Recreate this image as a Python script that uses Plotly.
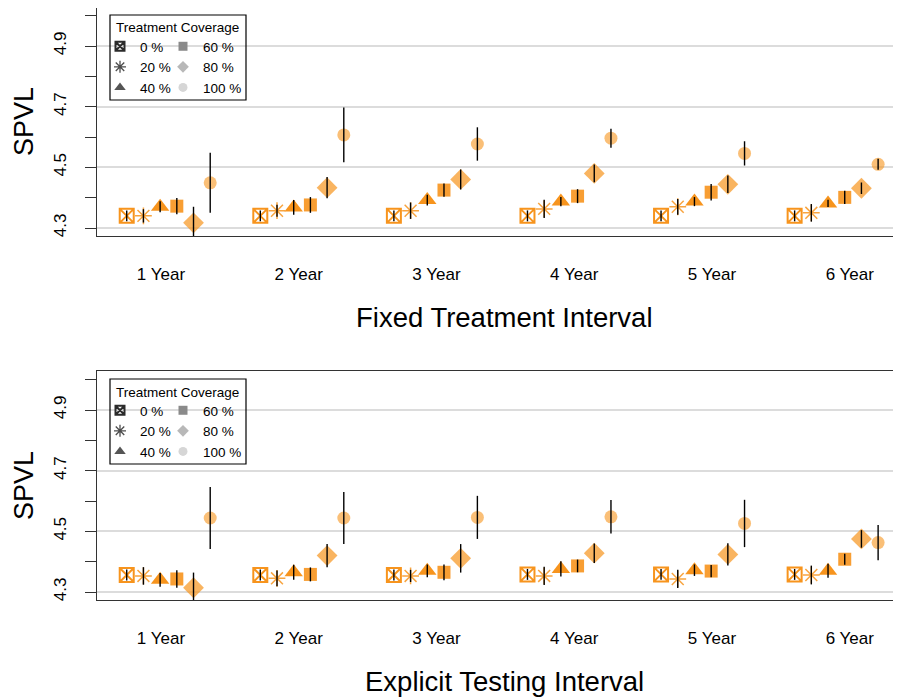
import plotly.graph_objects as go

# ---------------- data ----------------
coverage_labels = ["0 %", "20 %", "40 %", "60 %", "80 %", "100 %"]
interval_labels = ["1 Year", "2 Year", "3 Year", "4 Year", "5 Year", "6 Year"]

# Fixed treatment interval (top panel): mean SPVL and half-width of interval
fixed_0 = [4.340, 4.340, 4.340, 4.340, 4.340, 4.340]
fixed_20 = [4.340, 4.357, 4.357, 4.363, 4.370, 4.350]
fixed_40 = [4.370, 4.368, 4.392, 4.387, 4.387, 4.381]
fixed_60 = [4.372, 4.376, 4.425, 4.405, 4.418, 4.401]
fixed_80 = [4.317, 4.433, 4.460, 4.480, 4.444, 4.431]
fixed_100 = [4.449, 4.607, 4.577, 4.596, 4.546, 4.510]

fixed_err_0 = [0.018, 0.018, 0.018, 0.018, 0.018, 0.018]
fixed_err_20 = [0.022, 0.020, 0.027, 0.030, 0.026, 0.029]
fixed_err_40 = [0.018, 0.024, 0.018, 0.015, 0.015, 0.012]
fixed_err_60 = [0.027, 0.026, 0.022, 0.023, 0.027, 0.022]
fixed_err_80 = [0.053, 0.035, 0.033, 0.029, 0.029, 0.019]
fixed_err_100 = [0.099, 0.090, 0.055, 0.031, 0.040, 0.018]

# Explicit testing interval (bottom panel)
explicit_0 = [4.356, 4.356, 4.356, 4.358, 4.358, 4.358]
explicit_20 = [4.353, 4.345, 4.353, 4.353, 4.343, 4.356]
explicit_40 = [4.340, 4.365, 4.370, 4.376, 4.372, 4.370]
explicit_60 = [4.343, 4.358, 4.365, 4.386, 4.369, 4.408]
explicit_80 = [4.314, 4.420, 4.411, 4.428, 4.424, 4.475]
explicit_100 = [4.544, 4.544, 4.546, 4.548, 4.526, 4.463]

explicit_err_0 = [0.018, 0.018, 0.018, 0.018, 0.018, 0.018]
explicit_err_20 = [0.029, 0.026, 0.020, 0.030, 0.030, 0.031]
explicit_err_40 = [0.023, 0.025, 0.021, 0.025, 0.019, 0.023]
explicit_err_60 = [0.029, 0.023, 0.026, 0.021, 0.020, 0.018]
explicit_err_80 = [0.050, 0.038, 0.047, 0.032, 0.037, 0.029]
explicit_err_100 = [0.102, 0.086, 0.071, 0.055, 0.078, 0.058]

panel_titles = ["Fixed Treatment Interval", "Explicit Testing Interval"]
y_tick_values = [4.3, 4.5, 4.7, 4.9]

# ---------------- styles ----------------
symbols = ["square-x-open", "asterisk-open", "triangle-up", "square", "diamond", "circle"]
sizes = [14, 14, 16, 13, 16, 13]
plot_colors = [
    "rgba(247,148,29,1.0)",
    "rgba(247,148,29,0.85)",
    "rgba(247,148,29,1.0)",
    "rgba(247,148,29,0.9)",
    "rgba(247,148,29,0.7)",
    "rgba(247,148,29,0.6)",
]
legend_colors = ["#2b2b2b", "#4d4d4d", "#555555", "#8a8a8a", "#b8b8b8", "#d6d6d6"]
legend_sizes = [9, 10, 10, 9, 9, 9]
FONT = "Liberation Sans, Arial, Helvetica, sans-serif"

fixed_means = [fixed_0, fixed_20, fixed_40, fixed_60, fixed_80, fixed_100]
fixed_errs = [fixed_err_0, fixed_err_20, fixed_err_40, fixed_err_60, fixed_err_80, fixed_err_100]
explicit_means = [explicit_0, explicit_20, explicit_40, explicit_60, explicit_80, explicit_100]
explicit_errs = [explicit_err_0, explicit_err_20, explicit_err_40, explicit_err_60, explicit_err_80, explicit_err_100]

n_groups = len(interval_labels)
n_cov = len(coverage_labels)


def xpos(k):
    # index position: 6 points per group, gap of 2 between groups
    return [8 * g + k + 1 for g in range(n_groups)]


fig = go.Figure()

panels = [(fixed_means, fixed_errs, "x", "y"), (explicit_means, explicit_errs, "x2", "y2")]
for p, (means, errs, xa, ya) in enumerate(panels):
    # markers
    for k in range(n_cov):
        open_sym = symbols[k].endswith("open")
        fig.add_trace(go.Scatter(
            x=xpos(k), y=means[k], mode="markers", xaxis=xa, yaxis=ya,
            showlegend=False, hoverinfo="skip",
            marker=dict(
                symbol=symbols[k], size=sizes[k], color=plot_colors[k],
                line=dict(color=plot_colors[k], width=2 if k == 0 else (1.5 if open_sym else 0)),
            ),
        ))
    # error bars on top
    for k in range(n_cov):
        fig.add_trace(go.Scatter(
            x=xpos(k), y=means[k], mode="markers", xaxis=xa, yaxis=ya,
            showlegend=False, hoverinfo="skip",
            marker=dict(size=1, color="rgba(0,0,0,0)"),
            error_y=dict(type="data", array=errs[k], visible=True, color="#000000",
                         thickness=1.4, width=0),
        ))
    # legend keys (grey), two columns
    for k in range(n_cov):
        legend_name = "legend" if p == 0 else "legend3"
        if k >= 3:
            legend_name = "legend2" if p == 0 else "legend4"
        fig.add_trace(go.Scatter(
            x=[None], y=[None], mode="markers", xaxis=xa, yaxis=ya,
            name=coverage_labels[k], legend=legend_name, showlegend=True,
            marker=dict(symbol=symbols[k], size=legend_sizes[k], color=legend_colors[k],
                        line=dict(color=legend_colors[k],
                                  width=2 if k == 0 else (1.3 if k == 1 else 0))),
        ))

# ---------------- layout ----------------
# The page body adds an 8px offset; design in window pixels and compensate.
OFF = 8
WIN_W, WIN_H = 901, 697
W, H = WIN_W - OFF, WIN_H - OFF
PLOT_L = 97            # window x of plot-area left edge
ML = PLOT_L - OFF
PW = WIN_W - PLOT_L


def px_x(px):
    return (px - PLOT_L) / PW


def px_y(py):
    return (WIN_H - py) / H


PX_PER_UNIT = 303.3     # pixels per SPVL unit


def y_at(py, ref_py):   # value at window pixel py for a panel whose 4.3 tick is at ref_py
    return 4.3 + (ref_py - py) / PX_PER_UNIT


tick_pos = [3.05 + 8.25 * i for i in range(n_groups)]
x_range = [-0.78, 47.37]

panel_top = [OFF, 371]
panel_bot = [236, 600]
tick43 = [228, 592]
offs = [0, 364]

xaxis_common = dict(
    range=x_range, showgrid=False, zeroline=False, showline=True, mirror=True,
    linecolor="#333333", linewidth=1.3, ticks="outside", ticklen=22,
    tickcolor="rgba(0,0,0,0)", tickvals=tick_pos, ticktext=interval_labels,
    tickfont=dict(family=FONT, size=17, color="#000000"), automargin=False,
)
yaxis_common = dict(
    tickvals=y_tick_values, ticktext=[f"{v:.1f}" for v in y_tick_values],
    showgrid=True, gridcolor="#dcdcdc", gridwidth=1.5, zeroline=False,
    showline=True, linecolor="#333333", linewidth=1.3,
    ticks="outside", ticklen=11, tickwidth=1, tickcolor="#333333",
    minor=dict(tick0=4.3, dtick=0.1, ticks="outside", ticklen=11, tickwidth=1,
               tickcolor="#333333", showgrid=False),
    tickangle=-90, ticklabelstandoff=12, automargin=False,
    tickfont=dict(family=FONT, size=17, color="#000000"),
)

legend_common = dict(
    bgcolor="rgba(0,0,0,0)", borderwidth=0, xanchor="left", yanchor="top",
    font=dict(family=FONT, size=13.5, color="#000000"), itemwidth=30,
    tracegroupgap=0, orientation="v",
)

LEG_TOP = 31
COL1, COL2 = 100, 163
layout = dict(
    width=W, height=H, margin=dict(l=ML, r=0, t=0, b=0, autoexpand=False),
    paper_bgcolor="white", plot_bgcolor="white",
    font=dict(family=FONT, color="#000000"),
    xaxis=dict(xaxis_common, anchor="y", domain=[0, 1]),
    yaxis=dict(yaxis_common, anchor="x",
               range=[y_at(panel_bot[0], tick43[0]), y_at(panel_top[0], tick43[0])],
               domain=[px_y(panel_bot[0]), min(1.0, px_y(panel_top[0]))]),
    xaxis2=dict(xaxis_common, anchor="y2", domain=[0, 1]),
    yaxis2=dict(yaxis_common, anchor="x2",
                range=[y_at(panel_bot[1], tick43[1]), y_at(panel_top[1], tick43[1])],
                domain=[px_y(panel_bot[1]), px_y(panel_top[1])]),
    legend=dict(legend_common, x=px_x(COL1), y=px_y(LEG_TOP)),
    legend2=dict(legend_common, x=px_x(COL2), y=px_y(LEG_TOP)),
    legend3=dict(legend_common, x=px_x(COL1), y=px_y(LEG_TOP + offs[1])),
    legend4=dict(legend_common, x=px_x(COL2), y=px_y(LEG_TOP + offs[1])),
    showlegend=True,
)

shapes = []
annotations = []
for p in range(2):
    o = offs[p]
    shapes.append(dict(type="rect", xref="paper", yref="paper",
                       x0=px_x(110), x1=px_x(246), y0=px_y(100 + o), y1=px_y(15 + o),
                       line=dict(color="#000000", width=1.2), fillcolor="rgba(0,0,0,0)"))
    annotations.append(dict(text="Treatment Coverage", xref="paper", yref="paper",
                            x=px_x(114), y=px_y(28 + o), xanchor="left", yanchor="middle",
                            showarrow=False, font=dict(family=FONT, size=13.5, color="#000000")))
    annotations.append(dict(text="SPVL", xref="paper", yref="paper",
                            x=px_x(24), y=px_y(122 + o), xanchor="center", yanchor="middle",
                            textangle=-90, showarrow=False,
                            font=dict(family=FONT, size=27, color="#000000")))
    annotations.append(dict(text=panel_titles[p], xref="paper", yref="paper",
                            x=px_x(504), y=px_y(317 + o), xanchor="center", yanchor="middle",
                            showarrow=False, font=dict(family=FONT, size=27.5, color="#000000")))

layout["shapes"] = shapes
layout["annotations"] = annotations
fig.update_layout(**layout)

fig.write_html("out.html")
